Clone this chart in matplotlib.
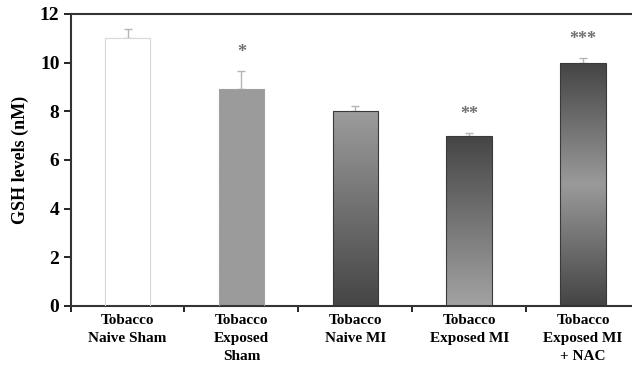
import numpy as np
import matplotlib.pyplot as plt
from matplotlib.colors import LinearSegmentedColormap

# GSH levels per group
groups = ['Tobacco\nNaive Sham', 'Tobacco\nExposed\nSham', 'Tobacco\nNaive MI',
          'Tobacco\nExposed MI', 'Tobacco\nExposed MI\n+ NAC']
gsh = [11.0, 8.9, 8.0, 7.0, 10.0]
sem = [0.4, 0.75, 0.2, 0.12, 0.2]
stars = ['', '*', '', '**', '***']

# bar shading, listed bottom -> top
shades = [['#ffffff', '#ffffff'],
          ['#9b9b9b', '#9b9b9b'],
          ['#454545', '#9c9c9c'],
          ['#a3a3a3', '#454545'],
          ['#444444', '#9a9a9a', '#444444']]
edges = ['#d8d8d8', '#a0a0a0', '#3a3a3a', '#3a3a3a', '#3a3a3a']

plt.rcParams['font.family'] = 'Liberation Serif'
plt.rcParams['font.weight'] = 'bold'

fig = plt.figure(figsize=(6.32, 3.81), dpi=100)
ax = fig.add_axes([0.1117, 0.1969, 0.901, 0.7664])

x = np.arange(len(groups))
w = 0.4
bars = ax.bar(x, gsh, width=w, color='none', edgecolor=edges, linewidth=0.8, zorder=3)

# gradient fill clipped to each bar
for b, sh in zip(bars, shades):
    cmap = LinearSegmentedColormap.from_list('g', sh)
    grad = np.linspace(0, 1, 256).reshape(-1, 1)
    im = ax.imshow(grad, cmap=cmap, origin='lower', aspect='auto',
                   extent=[b.get_x(), b.get_x() + b.get_width(), 0, b.get_height()],
                   zorder=2)
    im.set_clip_path(b)

ax.errorbar(x, gsh, yerr=[np.zeros(len(sem)), sem], fmt='none', ecolor='#b5b5b5',
            elinewidth=1, capsize=3, capthick=1, zorder=1)

for xi, h, e, s in zip(x, gsh, sem, stars):
    if s:
        ax.annotate(s, (xi, h + e), xytext=(0, 7), textcoords='offset points',
                    ha='center', va='bottom', fontsize=13, color='#707070')

ax.set_xlim(-0.5, 4.5)
ax.set_ylim(0, 12)
ax.set_yticks(range(0, 13, 2))
ax.set_xticks(np.arange(-0.5, 4.6, 1))
ax.set_xticklabels([])
ax.set_xticks(x, minor=True)
ax.set_xticklabels(groups, minor=True, fontsize=11, linespacing=1.5)
ax.tick_params(axis='x', which='minor', length=0, pad=6)
ax.tick_params(axis='x', which='major', length=4, width=1.2, direction='out')
ax.tick_params(axis='y', length=5, width=1.2, labelsize=14, pad=3)

for sp in ax.spines.values():
    sp.set_linewidth(1.5)
    sp.set_color('#333333')

ax.set_ylabel('GSH levels (nM)', fontsize=13, fontweight='bold', labelpad=8)

fig.savefig('out.png', dpi=100)
